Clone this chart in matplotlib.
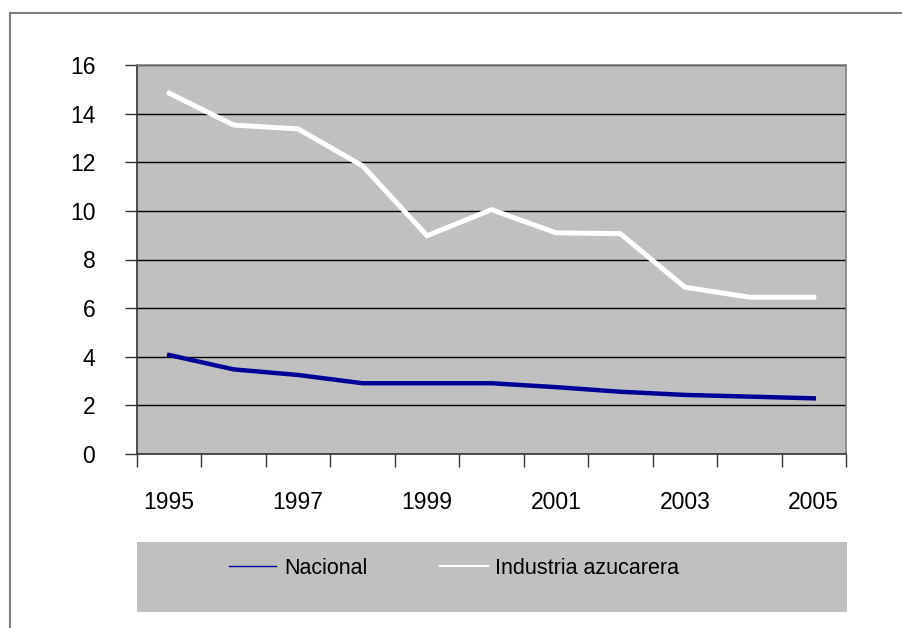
import matplotlib.pyplot as plt
from matplotlib.lines import Line2D
from matplotlib.patches import Rectangle

plt.rcParams['font.family'] = ['Liberation Sans', 'DejaVu Sans']

# Data
years = ['1995', '1996', '1997', '1998', '1999', '2000',
         '2001', '2002', '2003', '2004', '2005']
nacional = [4.07, 3.48, 3.25, 2.91, 2.91, 2.91, 2.75, 2.56, 2.43, 2.36, 2.29]
azucarera = [14.84, 13.53, 13.37, 11.85, 8.98, 10.05, 9.1, 9.06, 6.86, 6.45, 6.45]
yticks = [0, 2, 4, 6, 8, 10, 12, 14, 16]

W, H = 902, 628
fig = plt.figure(figsize=(W / 100, H / 100), dpi=100)
ax = fig.add_axes([137 / W, 1 - 454 / H, (846 - 137) / W, (454 - 65) / H])
ax.set_facecolor('#C0C0C0')

x = list(range(len(years)))
ax.plot(x, azucarera, color='white', lw=3.6, solid_joinstyle='miter', zorder=3)
ax.plot(x, nacional, color='#000099', lw=3.2, solid_joinstyle='miter', zorder=3)

ax.set_xlim(-0.5, len(years) - 0.5)
ax.set_ylim(0, 16)
ax.set_yticks(yticks)
ax.set_yticklabels([str(v) for v in yticks])
ax.yaxis.grid(True, color='black', lw=1)
ax.set_axisbelow(True)

# category boundary ticks without labels, labels every other year
ax.set_xticks([i - 0.5 for i in range(len(years) + 1)])
ax.set_xticklabels([])
ax.set_xticks(x[::2], minor=True)
ax.set_xticklabels(years[::2], minor=True)
ax.tick_params(axis='x', which='major', length=9, width=1, color='#333333')
ax.tick_params(axis='x', which='minor', length=0, pad=26.5, labelsize=16.5)
ax.tick_params(axis='y', length=9, width=1, color='#333333', pad=21, labelsize=16.5)

for s in ['top', 'right']:
    ax.spines[s].set_color('#808080')
    ax.spines[s].set_linewidth(1.2)
for s in ['left', 'bottom']:
    ax.spines[s].set_color('#333333')
    ax.spines[s].set_linewidth(1.2)

# legend area
fig.patches.append(Rectangle((137 / W, 1 - 612 / H), (847 - 137) / W, 70 / H,
                             transform=fig.transFigure, facecolor='#C0C0C0',
                             edgecolor='none', zorder=0))
handles = [Line2D([], [], color='#000099', lw=1),
           Line2D([], [], color='white', lw=1.5)]
fig.legend(handles, ['Nacional', 'Industria azucarera'], ncol=2, frameon=False,
           loc='center left', bbox_to_anchor=(229 / W, 1 - 568 / H),
           fontsize=15.5, handlelength=2.2, handletextpad=0.35,
           columnspacing=3.4, borderpad=0, borderaxespad=0)

# outer chart border
fig.add_artist(Line2D([10 / W, 1], [1 - 13 / H, 1 - 13 / H],
                      transform=fig.transFigure, color='#808080', lw=1.5))
fig.add_artist(Line2D([10 / W, 10 / W], [0, 1 - 13 / H],
                      transform=fig.transFigure, color='#808080', lw=1.5))

fig.savefig('out.png', dpi=100)
